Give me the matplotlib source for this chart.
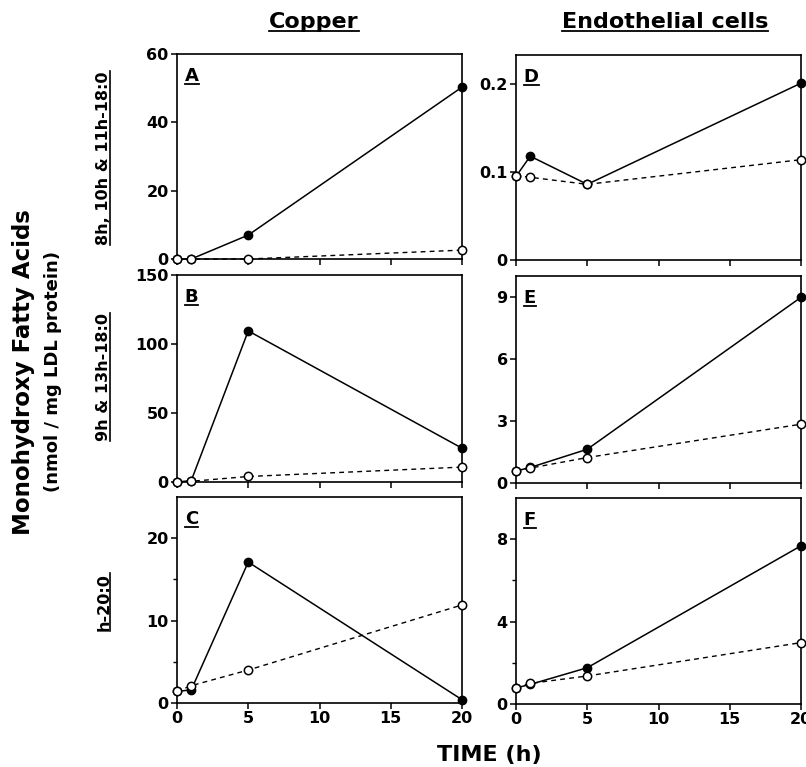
import matplotlib
matplotlib.use('Agg')
import matplotlib.pyplot as plt
from matplotlib.lines import Line2D

plt.rcParams['font.family'] = ['DejaVu Sans']
plt.rcParams['font.weight'] = 'bold'

# sampling times (h)
time_h = [0, 1, 5, 20]

# Copper oxidation
a_filled = [0.0, 0.0, 7.0, 50.3]
a_open = [0.0, 0.0, 0.0, 2.6]
b_filled = [0.0, 1.0, 109.5, 24.5]
b_open = [0.0, 0.5, 4.0, 10.8]
c_filled = [1.4, 1.6, 17.1, 0.4]
c_open = [1.4, 2.1, 4.0, 11.9]

# Endothelial cells
d_filled = [0.095, 0.118, 0.086, 0.201]
d_open = [0.096, 0.094, 0.086, 0.114]
e_filled = [0.58, 0.75, 1.63, 8.97]
e_open = [0.58, 0.72, 1.23, 2.84]
f_filled = [0.78, 0.95, 1.76, 7.68]
f_open = [0.78, 1.0, 1.36, 2.98]

x_ticks = [0, 5, 10, 15, 20]
x_tick_labels = ['0', '5', '10', '15', '20']

col_titles = ['Copper', 'Endothelial cells']
row_labels = ['8h, 10h & 11h-18:0', '9h & 13h-18:0', 'h-20:0']

fig = plt.figure(figsize=(8.06, 7.67), dpi=100)
W, H = 806, 767


def px_axes(left, top, right, bottom):
    return fig.add_axes([left / W, 1 - bottom / H, (right - left) / W, (bottom - top) / H])


panels = [
    # (left, top, right, bottom), filled, open, ylim, yticks, yticklabels, minor, letter
    ((177, 54, 462, 259), a_filled, a_open, 60, [0, 20, 40, 60], ['0', '20', '40', '60'], [], 'A'),
    ((177, 275, 462, 482), b_filled, b_open, 150, [0, 50, 100, 150], ['0', '50', '100', '150'], [], 'B'),
    ((177, 497, 462, 703), c_filled, c_open, 25, [0, 10, 20], ['0', '10', '20'], [5, 15], 'C'),
    ((516, 55, 801, 260), d_filled, d_open, 0.233, [0, 0.1, 0.2], ['0', '0.1', '0.2'], [], 'D'),
    ((516, 276, 801, 483), e_filled, e_open, 10, [0, 3, 6, 9], ['0', '3', '6', '9'], [], 'E'),
    ((516, 498, 801, 704), f_filled, f_open, 10, [0, 4, 8], ['0', '4', '8'], [2, 6], 'F'),
]

letters = []
for i, (box, filled, opened, ymax, yt, ytl, minor, letter) in enumerate(panels):
    ax = px_axes(*box)
    ax.plot(time_h, filled, '-', color='black', lw=1.1, marker='o', ms=6,
            mfc='black', mec='black', clip_on=False, zorder=3)
    ax.plot(time_h, opened, '--', color='black', lw=1.0, dashes=(3.5, 3), marker='o', ms=6,
            mfc='white', mec='black', mew=1.1, clip_on=False, zorder=4)
    ax.set_xlim(0, 20)
    ax.set_ylim(0, ymax)
    ax.set_yticks(yt)
    ax.set_yticklabels(ytl)
    if minor:
        ax.set_yticks(minor, minor=True)
    ax.set_xticks(x_ticks)
    if i in (2, 5):
        ax.set_xticklabels(x_tick_labels)
    else:
        ax.set_xticklabels([])
    ax.tick_params(direction='out', length=4, width=1.1, labelsize=11.5, pad=2)
    ax.tick_params(which='minor', direction='out', length=3, width=1.0)
    for s in ax.spines.values():
        s.set_linewidth(1.2)
    for lab in ax.get_xticklabels() + ax.get_yticklabels():
        lab.set_fontweight('bold')
    t = ax.text(0.027, 0.935, letter, transform=ax.transAxes, ha='left', va='top',
                fontsize=13, fontweight='bold')
    letters.append(t)

titles = [
    fig.text(314 / W, 1 - 22 / H, col_titles[0], ha='center', va='center', fontsize=16, fontweight='bold'),
    fig.text(665 / W, 1 - 22 / H, col_titles[1], ha='center', va='center', fontsize=16, fontweight='bold'),
]

rows = [
    fig.text(104 / W, 1 - 158 / H, row_labels[0], rotation=90, ha='center', va='center', fontsize=11.5, fontweight='bold'),
    fig.text(104 / W, 1 - 377 / H, row_labels[1], rotation=90, ha='center', va='center', fontsize=11.5, fontweight='bold'),
    fig.text(104 / W, 1 - 602 / H, row_labels[2], rotation=90, ha='center', va='center', fontsize=11.5, fontweight='bold'),
]

fig.text(24 / W, 1 - 372 / H, 'Monohydroxy Fatty Acids', rotation=90, ha='center', va='center',
         fontsize=16.5, fontweight='bold')
fig.text(53 / W, 1 - 371 / H, '(nmol / mg LDL protein)', rotation=90, ha='center', va='center',
         fontsize=13, fontweight='bold')
fig.text(489 / W, 1 - 755 / H, 'TIME (h)', ha='center', va='center', fontsize=16, fontweight='bold')

# underline titles, row labels and panel letters
fig.canvas.draw()
renderer = fig.canvas.get_renderer()
for t in titles + letters:
    bb = t.get_window_extent(renderer)
    y = bb.y0 + 1
    fig.add_artist(Line2D([bb.x0 / W, bb.x1 / W], [y / H, y / H], color='black', lw=1.3))
for t in rows:
    bb = t.get_window_extent(renderer)
    x = bb.x1 - 1
    fig.add_artist(Line2D([x / W, x / W], [bb.y0 / H, bb.y1 / H], color='black', lw=1.2))

fig.savefig('out.png', dpi=100)
